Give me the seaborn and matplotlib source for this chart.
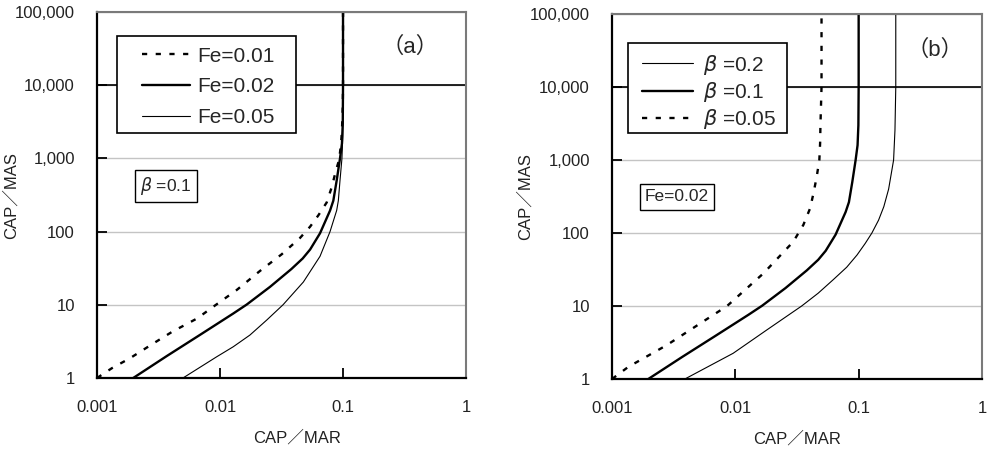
import matplotlib
matplotlib.use("Agg")
import matplotlib.pyplot as plt
from matplotlib.patches import Rectangle
import seaborn as sns

# ---- values (CAP/MAR , CAP/MAS) ----
# (a) beta = 0.1
fe001_mar = [0.001, 0.00132, 0.00185, 0.0029, 0.0041, 0.0065, 0.0088, 0.0137, 0.0211, 0.0317,
             0.0447, 0.054, 0.063, 0.0737, 0.081, 0.0877, 0.093, 0.0964, 0.098, 0.0995, 0.1, 0.1]
fe001_mas = [1.0, 1.36, 1.86, 3.0, 4.3, 6.5, 9.4, 16, 29, 49,
             82, 117, 167, 251, 407, 690, 960, 1600, 2400, 5000, 10000, 100000]

fe002_mar = [0.00197, 0.0037, 0.0069, 0.0128, 0.0165, 0.0255, 0.038, 0.047, 0.054, 0.065,
             0.0784, 0.0834, 0.0888, 0.0945, 0.098, 0.0995, 0.1, 0.1]
fe002_mas = [1.0, 2.0, 3.9, 7.6, 10.1, 17.6, 30.8, 43, 57, 95,
             194, 265, 500, 1000, 1600, 3000, 10000, 100000]

fe005_mar = [0.005, 0.0094, 0.0128, 0.0175, 0.024, 0.0325, 0.0476, 0.065, 0.0784, 0.0888,
             0.0916, 0.0945, 0.098, 0.0995, 0.1, 0.1]
fe005_mas = [1.0, 1.95, 2.67, 3.86, 6.2, 10, 20.5, 46, 100, 195,
             265, 500, 1000, 2000, 10000, 100000]

# (b) Fe = 0.02
b02_mar = [0.0039, 0.0096, 0.018, 0.0345, 0.047, 0.0623, 0.08, 0.097, 0.113, 0.128, 0.145,
           0.16, 0.175, 0.186, 0.192, 0.197, 0.2, 0.2]
b02_mas = [1.0, 2.25, 4.7, 10, 15, 23, 34, 50, 72, 100, 150,
           230, 400, 730, 1000, 2570, 10000, 100000]

b01_mar = fe002_mar   # same case (Fe=0.02, beta=0.1)
b01_mas = fe002_mas

b005_mar = [0.001, 0.00136, 0.00277, 0.00857, 0.0169, 0.0295, 0.0356, 0.0404, 0.043, 0.0457,
            0.048, 0.0487, 0.049, 0.05, 0.05]
b005_mas = [1.0, 1.47, 2.9, 10, 28, 76, 129, 218, 349, 590,
            1000, 1700, 3000, 10000, 100000]

x_ticks = [0.001, 0.01, 0.1, 1]
x_ticklabels = ["0.001", "0.01", "0.1", "1"]
y_ticks = [1, 10, 100, 1000, 10000, 100000]
y_ticklabels = ["1", "10", "100", "1,000", "10,000", "100,000"]

# ---- style ----
sns.set_theme(style="white")
plt.rcParams["font.family"] = ["Liberation Sans", "Noto Sans CJK JP", "DejaVu Sans"]
plt.rcParams["mathtext.fontset"] = "dejavusans"

thick = dict(lw=1.7)
thin = dict(lw=0.8)
dotted = dict(lw=1.7, linestyle=(0, (2.2, 3.6)))

fig = plt.figure(figsize=(9.89, 4.59), dpi=100)
ax1 = fig.add_axes([0.0981, 0.1765, 0.3731, 0.797])
ax2 = fig.add_axes([0.6188, 0.1743, 0.3741, 0.795])


def setup(ax):
    ax.set_xscale("log")
    ax.set_yscale("log")
    ax.set_xlim(0.001, 1)
    ax.set_ylim(1, 100000)


def finish(ax, ylab_x):
    ax.set_xticks(x_ticks)
    ax.set_xticklabels(x_ticklabels)
    ax.set_yticks(y_ticks)
    ax.set_yticklabels(y_ticklabels)
    ax.minorticks_off()
    ax.tick_params(axis="both", direction="in", length=7, width=1.3, color="black",
                   labelsize=12, pad=16, labelcolor="#222222")
    ax.tick_params(axis="x", bottom=True, top=False)
    ax.tick_params(axis="y", left=True, right=False)
    ax.set_axisbelow(True)
    ax.yaxis.grid(True, color="#c4c4c4", lw=1)
    ax.xaxis.grid(False)
    ax.axhline(10000, color="black", lw=1.2, zorder=1)
    for s in ["left", "bottom"]:
        ax.spines[s].set_color("black")
        ax.spines[s].set_linewidth(1.6)
    for s in ["top", "right"]:
        ax.spines[s].set_color("#7a7a7a")
        ax.spines[s].set_linewidth(1.5)
    ax.set_xlabel("CAP／MAR", fontsize=12, color="#222222")
    ax.set_ylabel("CAP／MAS", fontsize=12, color="#222222")
    ax.yaxis.set_label_coords(ylab_x, 0.5)


def curve(ax, x, y, label, style):
    sns.lineplot(x=x, y=y, ax=ax, label=label, sort=False, estimator=None,
                 color="black", **style)


# ---- (a) ----
setup(ax1)
curve(ax1, fe001_mar, fe001_mas, "Fe=0.01", dotted)
curve(ax1, fe002_mar, fe002_mas, "Fe=0.02", thick)
curve(ax1, fe005_mar, fe005_mas, "Fe=0.05", thin)
finish(ax1, -0.212)
ax1.xaxis.set_label_coords(0.542, -0.142)
ax1.add_patch(Rectangle((0.0542, 0.669), 0.4848, 0.265, transform=ax1.transAxes,
                        fc="white", ec="black", lw=1.2, zorder=4))
ax1.legend(loc="upper left", bbox_to_anchor=(0.122, 0.906), frameon=False, fontsize=15,
           borderpad=0, borderaxespad=0, handlelength=2.3, handletextpad=0.34,
           labelspacing=0.57)
ax1.text(0.187, 0.525, r"$\beta$ =0.1", transform=ax1.transAxes, fontsize=12.5,
         ha="center", va="center",
         bbox=dict(boxstyle="square,pad=0.3", fc="white", ec="black", lw=1))
ax1.text(0.848, 0.904, "（a）", transform=ax1.transAxes, fontsize=16,
         ha="center", va="center")

# ---- (b) ----
setup(ax2)
curve(ax2, b02_mar, b02_mas, r"$\beta$ =0.2", thin)
curve(ax2, b01_mar, b01_mas, r"$\beta$ =0.1", thick)
curve(ax2, b005_mar, b005_mas, r"$\beta$ =0.05", dotted)
finish(ax2, -0.215)
ax2.xaxis.set_label_coords(0.5, -0.142)
ax2.add_patch(Rectangle((0.043, 0.674), 0.43, 0.247, transform=ax2.transAxes,
                        fc="white", ec="black", lw=1.2, zorder=4))
ax2.legend(loc="upper left", bbox_to_anchor=(0.081, 0.894), frameon=False, fontsize=15,
           borderpad=0, borderaxespad=0, handlelength=2.45, handletextpad=0.48,
           labelspacing=0.15)
ax2.text(0.176, 0.499, "Fe=0.02", transform=ax2.transAxes, fontsize=12.5,
         ha="center", va="center",
         bbox=dict(boxstyle="square,pad=0.3", fc="white", ec="black", lw=1))
ax2.text(0.873, 0.901, "（b）", transform=ax2.transAxes, fontsize=16,
         ha="center", va="center")

fig.savefig("out.png", dpi=100)
